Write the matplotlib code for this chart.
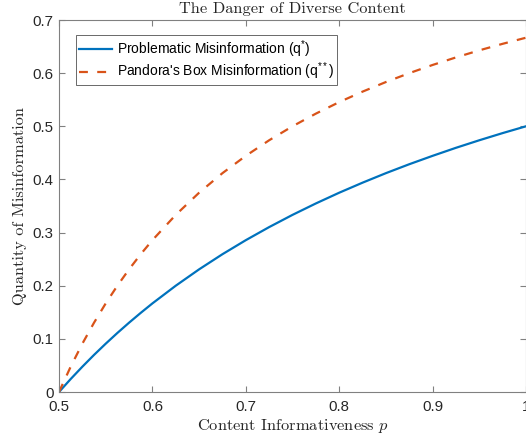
import matplotlib
matplotlib.use("Agg")
import matplotlib.pyplot as plt
from matplotlib.font_manager import FontProperties

# Data
p_values = [0.5, 0.5125, 0.525, 0.5375, 0.55, 0.5625, 0.575, 0.5875, 0.6, 0.625, 0.65, 0.675,
            0.7, 0.725, 0.75, 0.775, 0.8, 0.825, 0.85, 0.875, 0.9, 0.925, 0.95, 0.975, 1.0]
q_star = [0.0, 0.0244, 0.0476, 0.0698, 0.0909, 0.1111, 0.1304, 0.1489, 0.1667, 0.2000, 0.2308,
          0.2593, 0.2857, 0.3103, 0.3333, 0.3548, 0.3750, 0.3939, 0.4118, 0.4286, 0.4444,
          0.4595, 0.4737, 0.4872, 0.5000]
q_double_star = [0.0, 0.0476, 0.0909, 0.1304, 0.1667, 0.2000, 0.2308, 0.2593, 0.2857, 0.3333,
                 0.3750, 0.4118, 0.4444, 0.4737, 0.5000, 0.5238, 0.5455, 0.5652, 0.5833, 0.6000,
                 0.6154, 0.6296, 0.6429, 0.6552, 0.6667]
x_ticks = [0.5, 0.6, 0.7, 0.8, 0.9, 1.0]
x_tick_labels = ["0.5", "0.6", "0.7", "0.8", "0.9", "1"]
y_ticks = [0, 0.1, 0.2, 0.3, 0.4, 0.5, 0.6, 0.7]
y_tick_labels = ["0", "0.1", "0.2", "0.3", "0.4", "0.5", "0.6", "0.7"]
labels = ["Problematic Misinformation (q$^{*}$)", "Pandora's Box Misinformation (q$^{**}$)"]

plt.rcParams['mathtext.fontset'] = 'custom'
plt.rcParams['mathtext.rm'] = 'Liberation Sans'
plt.rcParams['mathtext.it'] = 'Liberation Sans:italic'
plt.rcParams['font.family'] = ['Liberation Sans', 'DejaVu Sans']

W, H = 526, 440
fig = plt.figure(figsize=(W / 100, H / 100), dpi=100)
ax_left, ax_right, ax_top, ax_bottom = 59, 526, 20, 392
ax = fig.add_axes([ax_left / W, (H - ax_bottom) / H, (ax_right - ax_left) / W, (ax_bottom - ax_top) / H])

blue = '#0072BD'
orange = '#D95319'
ax.plot(p_values, q_star, color=blue, lw=1.6, label=labels[0])
ax.plot(p_values, q_double_star, color=orange, lw=1.6, ls=(0, (4.0, 4.2)), label=labels[1])

ax.set_xlim(0.5, 1.0)
ax.set_ylim(0, 0.7)
ax.set_xticks(x_ticks)
ax.set_xticklabels(x_tick_labels)
ax.set_yticks(y_ticks)
ax.set_yticklabels(y_tick_labels)

spine_color = '#808080'
for s in ax.spines.values():
    s.set_color(spine_color)
    s.set_linewidth(0.8)
ax.tick_params(direction='in', length=4, width=0.8, color=spine_color,
               top=True, right=True, labelsize=10.8, labelcolor='#262626')
ax.tick_params(axis='x', pad=6)
ax.tick_params(axis='y', pad=4)

cm_font = FontProperties(family='cmr10', size=11.8, math_fontfamily='cm')
ax.set_title('The Danger of Diverse Content', fontproperties=cm_font, color='#262626', pad=5)
ax.set_xlabel(r'Content Informativeness $p$', fontproperties=cm_font, color='#262626', labelpad=2)
ax.set_ylabel('Quantity of Misinformation', fontproperties=cm_font, color='#262626', labelpad=4)

leg = ax.legend(loc='upper left', bbox_to_anchor=(17 / 467, 1 - 15 / 372), borderaxespad=0,
                fontsize=10, frameon=True, fancybox=False, edgecolor='#262626',
                handlelength=2.4, handletextpad=0.3, borderpad=0.22, labelspacing=0.08)
leg.get_frame().set_linewidth(0.6)

fig.savefig('out.png', dpi=100)
